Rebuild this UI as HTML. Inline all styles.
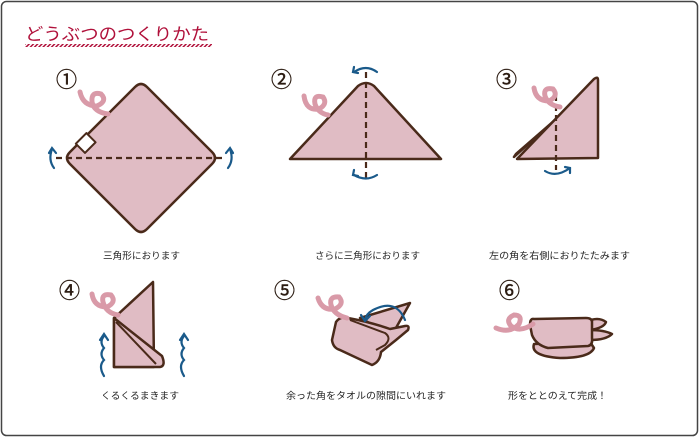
<!DOCTYPE html>
<html><head><meta charset="utf-8"><style>
html,body{margin:0;padding:0;background:#fff;}
svg{display:block;}
text{font-family:"Liberation Sans","Noto Sans CJK JP",sans-serif;}
</style></head><body>
<svg width="700" height="438" viewBox="0 0 700 438" xmlns="http://www.w3.org/2000/svg">
<defs>
<pattern id="hatch" width="3" height="3" patternUnits="userSpaceOnUse" patternTransform="rotate(45)">
<rect width="1.5" height="3" fill="#b0103a"/></pattern>
</defs>
<rect x="1.5" y="1.5" width="696" height="434" rx="5" fill="#fff" stroke="#444" stroke-width="1.5"/>
<text x="25" y="40" font-size="17" fill="#b0103a" textLength="184" lengthAdjust="spacingAndGlyphs">どうぶつのつくりかた</text>
<rect x="25" y="44" width="187" height="3" fill="url(#hatch)"/>

<g font-size="21" fill="#2a1a10" stroke="#2a1a10" stroke-width="0.4">
<text x="56" y="87">①</text><text x="271" y="87">②</text><text x="496" y="87">③</text>
<text x="59" y="298">④</text><text x="274" y="298">⑤</text><text x="499" y="298">⑥</text>
</g>

<g fill="#e0bcc4" stroke="#4a2a1a" stroke-width="2.5" stroke-linejoin="round">
<path d="M135,87 Q141,81 147,87 L212,152 Q218,158 212,164 L147,229 Q141,235 135,229 L70,164 Q64,158 70,152 Z"/>
<rect x="78" y="137" width="15" height="13" fill="#fff" stroke-width="2" transform="rotate(-45 85 143)"/>
<path d="M290,159 L358,86 Q366,80 374,86 L441,159 Z"/>
<path d="M514,157 L555,120 L516,154 Z"/>
<path d="M517,159 L594,79 Q598,76 598,80 L598,158 Z"/>
<path d="M114,318 L153,282 L154,367 L114,367 Z"/>
<path d="M114,318 L162,356 Q166,366 160,367 L114,367 Z"/>
<path d="M116,322 L156,364" fill="none" stroke-width="2"/>
<path d="M360,318 L410,303 L392,335 Z"/>
<path d="M348,318 Q340,316 336,322 L332,340 Q333,348 340,350 L372,365 Q380,362 381,352 L396,340 L408,330 Q410,325 405,326 L390,329 Q370,322 348,318 Z"/>
<path d="M350,320 L385,333 Q392,338 385,345 L376,350" fill="none" stroke-width="2"/>
<path d="M586,322 Q598,316 606,322 Q604,328 590,330 Z"/>
<path d="M590,330 Q604,330 612,334 Q606,340 590,340 Z"/>
<path d="M534,344 Q530,356 560,358 Q590,358 594,348 L590,342 Z"/>
<path d="M534,319 Q530,318 530,325 L532,335 Q536,345 548,348 L588,346 Q593,345 592,338 L592,322 Q592,318 586,318 Z"/>
</g>

<g stroke="#4a2a1a" stroke-width="2.2" stroke-dasharray="6,4" fill="none">
<line x1="56" y1="158" x2="226" y2="158"/>
<line x1="366" y1="72" x2="366" y2="182"/>
<line x1="556" y1="95" x2="556" y2="170"/>
</g>

<g fill="none" stroke="#d99aa8" stroke-width="5" stroke-linecap="round">
<path d="M80,92 Q83,106 97,106 Q108,101 101,94 Q91,91 92,102 Q94,112 108,114"/>
<path d="M304,96 Q306,111 319,109 Q328,104 323,97 Q313,94 315,104 Q318,113 328,115"/>
<path d="M534,88 Q536,101 549,101 Q559,96 553,89 Q543,87 545,96 Q548,105 560,107"/>
<path d="M92,294 Q94,307 107,307 Q117,302 111,295 Q101,293 103,302 Q106,313 118,315"/>
<path d="M318,298 Q322,311 335,309 Q345,304 339,297 Q329,296 331,305 Q334,315 347,318"/>
<path d="M496,328 Q510,334 519,324 Q523,315 514,315 Q505,319 511,326 Q520,333 533,324"/>
</g>

<g fill="none" stroke="#1a5a8a" stroke-width="2.2" stroke-linecap="round">
<path d="M54,168 Q48,160 52,149"/><path d="M49,153 L52,148 L56,153"/>
<path d="M228,168 Q234,160 230,149"/><path d="M226,153 L230,148 L233,153"/>
<path d="M377,72 Q366,64 354,72"/><path d="M354,67 L353,72 L358,73"/>
<path d="M377,175 Q366,182 354,175"/><path d="M354,170 L353,175 L358,176"/>
<path d="M545,171 Q556,178 570,168"/><path d="M565,167 L570,168 L570,173"/>
<path d="M405,320 Q396,298 373,310 Q366,314 365,320"/><path d="M361,315 L365,321 L370,316"/>
<path d="M104,376 Q98,366 104,360 Q99,354 104,348 Q99,342 104,336"/><path d="M100,340 L104,334 L108,340"/>
<path d="M184,376 Q178,366 184,360 Q179,354 184,348 Q179,342 184,336"/><path d="M180,340 L184,334 L188,340"/>
</g>

<g font-size="9.5" fill="#222">
<text x="103" y="259" textLength="77" lengthAdjust="spacingAndGlyphs">三角形におります</text>
<text x="315" y="259" textLength="105" lengthAdjust="spacingAndGlyphs">さらに三角形におります</text>
<text x="489" y="259" textLength="141" lengthAdjust="spacingAndGlyphs">左の角を右側におりたたみます</text>
<text x="101" y="399" textLength="78" lengthAdjust="spacingAndGlyphs">くるくるまきます</text>
<text x="286" y="399" textLength="160" lengthAdjust="spacingAndGlyphs">余った角をタオルの隙間にいれます</text>
<text x="508" y="399" textLength="99" lengthAdjust="spacingAndGlyphs">形をととのえて完成！</text>
</g>
</svg>
</body></html>
